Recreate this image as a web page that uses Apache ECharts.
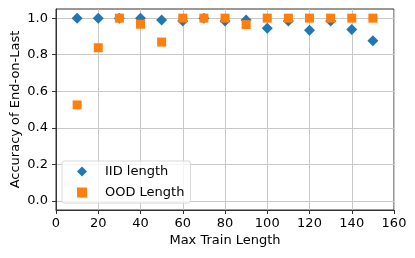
<!DOCTYPE html>
<html>
<head>
<meta charset="utf-8">
<script src="https://cdn.jsdelivr.net/npm/echarts@6/dist/echarts.min.js"></script>
<style>html,body{margin:0;padding:0;background:#fff;}#c{width:415px;height:258px;}</style>
</head>
<body>
<div id="c"></div>
<script>
const maxTrainLength = [10, 20, 30, 40, 50, 60, 70, 80, 90, 100, 110, 120, 130, 140, 150];
const iidAccuracy = [1.0, 1.0, 1.0, 1.0, 0.99, 0.985, 1.0, 0.985, 0.99, 0.945, 0.985, 0.934, 0.985, 0.938, 0.876];
const oodAccuracy = [0.525, 0.838, 1.0, 0.967, 0.869, 1.0, 1.0, 1.0, 0.965, 1.0, 1.0, 1.0, 1.0, 1.0, 1.0];
const xTicks = [0, 20, 40, 60, 80, 100, 120, 140, 160];
const yTicks = [0.0, 0.2, 0.4, 0.6, 0.8, 1.0];
const seriesNames = ['IID length', 'OOD Length'];

const font = 'DejaVu Sans';
const chart = echarts.init(document.getElementById('c'), null, {renderer: 'canvas'});
chart.setOption({
  animation: false,
  backgroundColor: '#fff',
  grid: {left: 56, right: 21, top: 9, bottom: 48, outerBoundsMode: 'none', containLabel: false,
         show: true, borderColor: '#333', borderWidth: 1, backgroundColor: 'transparent'},
  legend: {
    orient: 'vertical', left: 62, top: 161,
    data: [{name: seriesNames[0], icon: 'diamond'}, {name: seriesNames[1], icon: 'rect'}],
    itemWidth: 10, itemHeight: 10, itemGap: 8,
    padding: [4, 6, 4, 15],
    backgroundColor: 'rgba(255,255,255,0.8)', borderColor: '#d8d8d8', borderWidth: 1, borderRadius: 2,
    textStyle: {fontFamily: font, fontSize: 13, color: '#000', padding: [0, 0, 0, 13]}
  },
  xAxis: {
    type: 'value', min: 0, max: 160, interval: 20,
    name: 'Max Train Length', nameLocation: 'middle', nameGap: 24, nameMoveOverlap: false,
    nameTextStyle: {fontFamily: font, fontSize: 13, color: '#000'},
    axisLine: {show: true, onZero: false, lineStyle: {color: '#333', width: 1}},
    axisTick: {show: true, length: 4, lineStyle: {color: '#333'}, customValues: xTicks},
    axisLabel: {fontFamily: font, fontSize: 13, color: '#000', margin: 7, customValues: xTicks},
    splitLine: {show: true, lineStyle: {color: '#c8c8c8', width: 1}}
  },
  yAxis: {
    type: 'value', min: -0.05, max: 1.05,
    name: 'Accuracy of End-on-Last', nameLocation: 'middle', nameGap: 34, nameMoveOverlap: false,
    nameTextStyle: {fontFamily: font, fontSize: 13, color: '#000'},
    axisLine: {show: true, onZero: false, lineStyle: {color: '#333', width: 1}},
    axisTick: {show: true, length: 4, lineStyle: {color: '#333'}, customValues: yTicks},
    axisLabel: {fontFamily: font, fontSize: 13, color: '#000', margin: 8, customValues: yTicks, formatter: v => v.toFixed(1)},
    splitLine: {show: true, lineStyle: {color: '#c8c8c8', width: 1}}
  },
  series: [
    {name: seriesNames[0], type: 'scatter', symbol: 'diamond', symbolSize: 11,
     itemStyle: {color: '#1f77b4', opacity: 1},
     data: maxTrainLength.map((x, i) => [x, iidAccuracy[i]])},
    {name: seriesNames[1], type: 'scatter', symbol: 'rect', symbolSize: 9,
     itemStyle: {color: '#ff7f0e', opacity: 1},
     data: maxTrainLength.map((x, i) => [x, oodAccuracy[i]])}
  ]
});
</script>
</body>
</html>
